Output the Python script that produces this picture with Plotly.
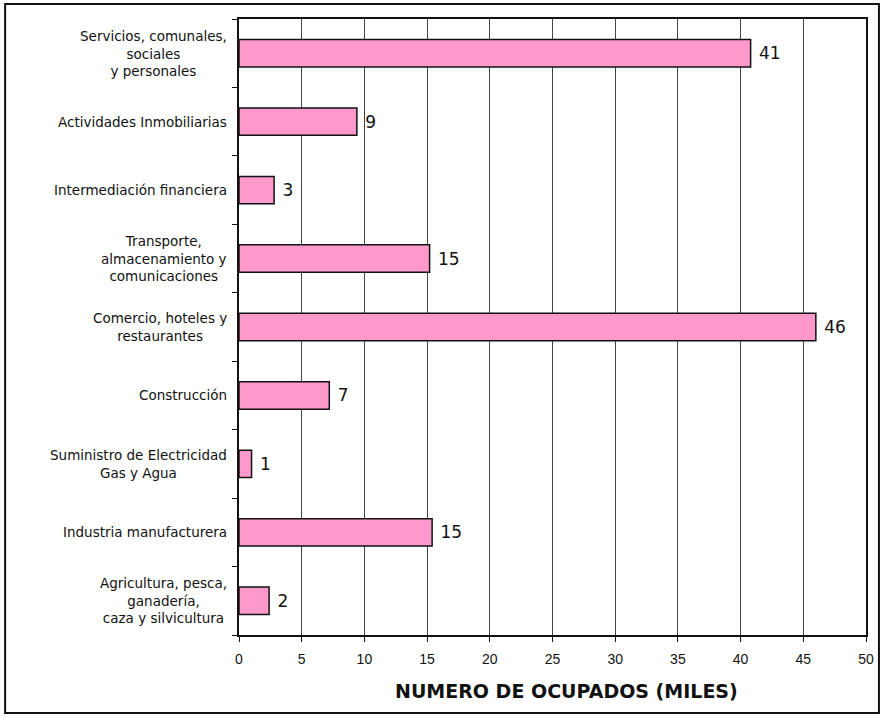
import plotly.graph_objects as go

sectores = [
    "Agricultura, pesca,<br>ganadería,<br>caza y silvicultura",
    "Industria manufacturera",
    "Suministro de Electricidad<br>Gas y Agua",
    "Construcción",
    "Comercio, hoteles y<br>restaurantes",
    "Transporte,<br>almacenamiento y<br>comunicaciones",
    "Intermediación financiera",
    "Actividades Inmobiliarias",
    "Servicios, comunales,<br>sociales<br>y personales",
]
ocupados = [2.4, 15.4, 1.0, 7.2, 46.0, 15.2, 2.8, 9.4, 40.8]
etiquetas = ["2", "15", "1", "7", "46", "15", "3", "9", "41"]
x_ticks = [0, 5, 10, 15, 20, 25, 30, 35, 40, 45, 50]

W, H = 886, 718
L, R, T, B = 239, 17, 19, 83
pw, ph = W - L - R, H - T - B


def _px_to_paper(x, y):
    return (x - L) / pw, (H - B - y) / ph


fig = go.Figure()
fig.add_trace(
    go.Bar(
        x=ocupados,
        y=sectores,
        orientation="h",
        marker=dict(color="#FF99CC", line=dict(color="#111111", width=1.5)),
        text=etiquetas,
        texttemplate="\u00a0%{text}",
        textposition="outside",
        textfont=dict(family="DejaVu Sans", size=17, color="#111111"),
        cliponaxis=False,
        width=0.4,
    )
)

# category labels, centred line by line like the original
for s in sectores:
    fig.add_annotation(
        x=0, xref="paper", y=s, yref="y",
        text=s, showarrow=False,
        xanchor="right", align="center", xshift=-10,
        font=dict(family="DejaVu Sans", size=13.5, color="#111111"),
    )

tx, ty = _px_to_paper(568, 691)
fig.add_annotation(
    x=tx, y=ty, xref="paper", yref="paper",
    xanchor="center", yanchor="middle",
    text="<b>NUMERO DE OCUPADOS (MILES)</b>", showarrow=False,
    font=dict(family="DejaVu Sans", size=19, color="#111111"),
)

x0, y0 = _px_to_paper(4, 4)
x1, y1 = _px_to_paper(882, 713)
fig.add_shape(
    type="rect", xref="paper", yref="paper",
    x0=x0, y0=y1, x1=x1, y1=y0,
    line=dict(color="#111111", width=2),
)

fig.update_layout(
    width=W,
    height=H,
    margin=dict(l=L, r=R, t=T, b=B),
    paper_bgcolor="white",
    plot_bgcolor="white",
    showlegend=False,
    font=dict(family="Liberation Sans, Arial", size=13, color="#111111"),
    xaxis=dict(
        range=[0, 50],
        tickvals=x_ticks,
        showgrid=True,
        gridcolor="#444444",
        gridwidth=1,
        showline=True,
        linecolor="#111111",
        linewidth=2,
        mirror=True,
        ticks="outside",
        ticklen=5,
        tickcolor="#111111",
        tickfont=dict(family="Liberation Sans, Arial", size=14),
        ticklabelstandoff=5,
        zeroline=False,
    ),
    yaxis=dict(
        categoryorder="array",
        categoryarray=sectores,
        showline=True,
        linecolor="#111111",
        linewidth=2,
        mirror=True,
        ticks="outside",
        tickson="boundaries",
        ticklen=5,
        tickcolor="#111111",
        showgrid=False,
        showticklabels=False,
    ),
)

fig.write_html(
    "out.html",
    config={"displayModeBar": False},
    post_script="document.body.style.margin='0px';",
)
